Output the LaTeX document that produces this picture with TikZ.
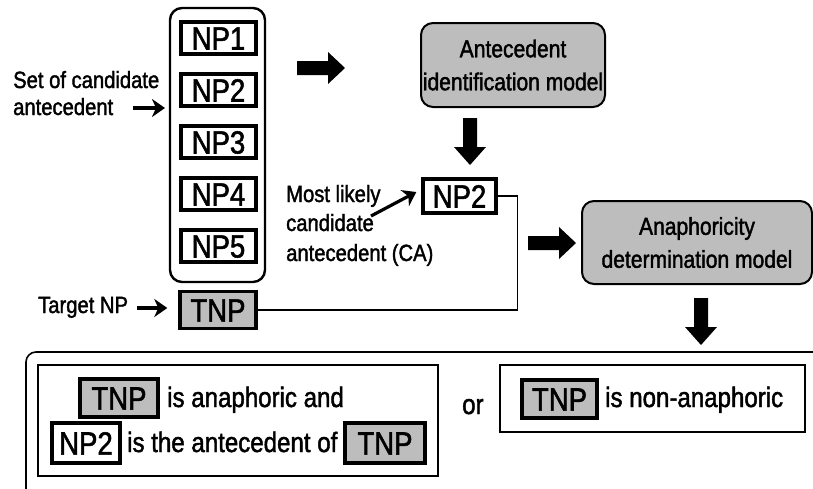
\documentclass[tikz,border=0pt]{standalone}
\usepackage{fontspec}
\setmainfont[FakeStretch=0.86,FakeBold=1.6]{Liberation Sans}
\usetikzlibrary{arrows.meta}
\definecolor{stipple}{gray}{0.74}
\begin{document}
\begin{tikzpicture}[x=1pt,y=-1pt,
  lbl/.style={inner sep=0pt, anchor=base west, font=\fontsize{23.5}{28}\selectfont},
  bigtxt/.style={inner sep=0pt, anchor=base west, font=\fontsize{28}{32}\selectfont},
  npbox/.style={draw, line width=3.4pt, inner sep=0pt, minimum width=75pt, minimum height=32pt,
    text height=23pt, text depth=0pt, font=\fontsize{32}{34}\selectfont},
  tnpbox/.style={npbox, fill=stipple},
  model/.style={draw, line width=2pt, rounded corners=12pt, fill=stipple, inner sep=0pt,
    align=center, font=\fontsize{24.5}{33}\selectfont},
  pointer/.style={line width=3.2pt, -{Stealth[length=13pt,width=18pt,inset=4pt]}},
  link/.style={line width=1.2pt},
  frame/.style={draw, line width=1.6pt, inner sep=0pt},
  rblock/.pic={\fill (0,-7) -- (31,-7) -- (31,-16) -- (48,0) -- (31,16) -- (31,7) -- (0,7) -- cycle;},
  dblock/.pic={\fill (-7,0) -- (-7,29) -- (-16,29) -- (0,47) -- (16,29) -- (7,29) -- (7,0) -- cycle;},
]
\useasboundingbox (0,0) rectangle (813,488);
\clip (0,0) rectangle (813,488);

% candidate set
\node[draw, line width=2.4pt, rounded corners=12pt, minimum width=95pt, minimum height=274pt] (group) at (217.5,145) {};
\node[npbox] (np1) at (218.5,38) {NP1};
\node[npbox] (np2) at (218.5,90) {NP2};
\node[npbox] (np3) at (218.5,142) {NP3};
\node[npbox] (np4) at (218.5,194) {NP4};
\node[npbox] (np5) at (218.5,246) {NP5};
\node[tnpbox, minimum width=76pt, minimum height=37pt] (tnp) at (218,310) {TNP};

\node[lbl] (setA) at (13,88) {Set of candidate};
\node[lbl] (setB) at (13,115) {antecedent};
\coordinate (setStart) at (133,108);
\coordinate (setTip) at (165,108);
\draw[pointer] (setStart) -- (setTip);

\node[lbl] (tgt) at (38,313) {Target NP};
\coordinate (tgtStart) at (137,308);
\draw[pointer] (tgtStart) -- ([xshift=-11pt]tnp.west |- tgtStart);

% antecedent identification
\pic at (297,68) {rblock};
\node[model, minimum width=184pt, minimum height=84pt] (aim) at (513,65) {Antecedent\\identification model};
\pic at (470,118) {dblock};
\node[npbox, minimum width=73pt, minimum height=34pt] (ca) at (459.5,196) {NP2};

\node[lbl] (mostA) at (286,202) {Most likely};
\node[lbl] (mostB) at (286,231) {candidate};
\node[lbl] (mostC) at (286,261) {antecedent (CA)};
\coordinate (caStart) at (371,216);
\draw[pointer] (caStart) -- ([xshift=-5pt,yshift=4pt]ca.west);

\draw[link] (ca.east) -- ++(20,0) |- (tnp.east);

% anaphoricity determination
\pic at (528,243) {rblock};
\node[model, minimum width=230pt, minimum height=83pt] (adm) at (697,242.5) {Anaphoricity\\determination model};
\pic at (701,298) {dblock};

% result
\node[frame, rounded corners=10pt, minimum width=824pt, minimum height=148pt] (result) at (438,426) {};
\node[frame, minimum width=400pt, minimum height=111pt] (yesbox) at (238,420.5) {};
\node[tnpbox, minimum width=78pt, minimum height=38pt] (tnpa) at (119,398) {TNP};
\node[bigtxt] (yesA) at (167,407) {is anaphoric and};
\node[npbox, minimum width=68pt, minimum height=40pt] (npb) at (86,443) {NP2};
\node[bigtxt] (yesB) at (127,452) {is the antecedent of};
\node[tnpbox, minimum width=80pt, minimum height=40pt] (tnpb) at (385,443) {TNP};

\node[bigtxt] (or) at (462,414) {or};

\node[frame, minimum width=305pt, minimum height=67pt] (nobox) at (652.5,398.5) {};
\node[tnpbox, minimum width=75pt, minimum height=38pt] (tnpc) at (559.5,399) {TNP};
\node[bigtxt] (noA) at (605,407) {is non-anaphoric};
\end{tikzpicture}
\end{document}
